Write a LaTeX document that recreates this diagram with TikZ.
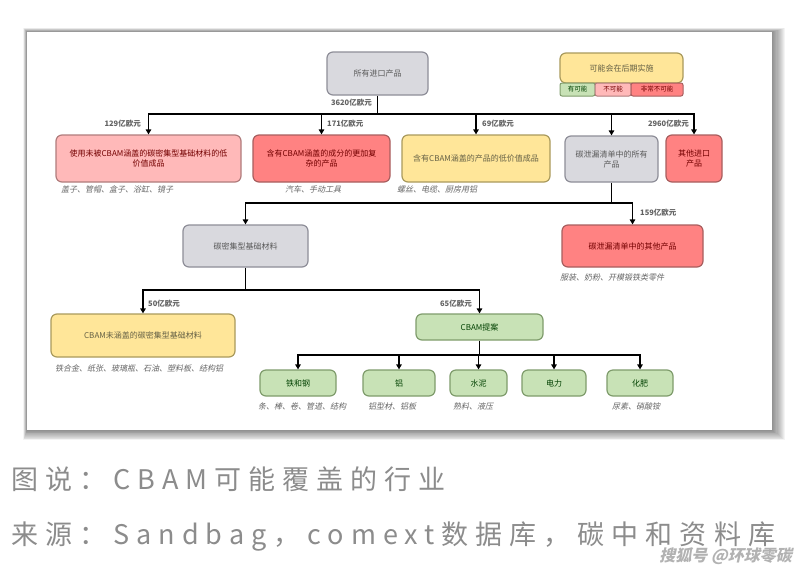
\documentclass[tikz,border=0pt]{standalone}
\usepackage{fontspec}
\setmainfont{Noto Sans CJK SC}
\newfontfamily\cjkit[FakeSlant=0.22]{Noto Sans CJK SC}
\newfontfamily\capfont[LetterSpace=26]{Noto Sans CJK SC}
\usetikzlibrary{arrows.meta}
\definecolor{grayfill}{HTML}{D9D9DE}
\definecolor{graydraw}{HTML}{8E8E98}
\definecolor{pinkfill}{HTML}{FFB9B9}
\definecolor{pinkdraw}{HTML}{B07C7C}
\definecolor{redfill}{HTML}{FF8282}
\definecolor{reddraw}{HTML}{A85E5E}
\definecolor{yelfill}{HTML}{FFE699}
\definecolor{yeldraw}{HTML}{A99A5C}
\definecolor{grnfill}{HTML}{C8E2B6}
\definecolor{grndraw}{HTML}{7F9C6C}
\definecolor{captxt}{HTML}{8C8C8C}
\tikzset{
  box/.style={rounded corners=6pt, line width=1.2pt, align=center, font=\fontsize{8}{10}\selectfont, inner sep=2pt},
  graybox/.style={box, fill=grayfill, draw=graydraw, text=black!65},
  pinkbox/.style={box, fill=pinkfill, draw=pinkdraw, text=red!45!black},
  redbox/.style={box, fill=redfill, draw=reddraw, text=red!45!black},
  yelbox/.style={box, fill=yelfill, draw=yeldraw, text=yellow!30!black},
  grnbox/.style={box, fill=grnfill, draw=grndraw, text=green!25!black},
  legsub/.style={rounded corners=2pt, line width=1pt, font=\fontsize{6.5}{8}\selectfont, inner sep=0pt, minimum height=13pt},
  amount/.style={font=\fontsize{7.5}{9}\selectfont\bfseries, text=black!62, inner sep=1pt},
  examples/.style={font=\cjkit\fontsize{8}{10}\selectfont, text=black!60, inner sep=0pt, anchor=west},
  conn/.style={line width=1.8pt, black},
  arr/.style={conn, -{Triangle[width=5.5pt,length=5pt]}},
  caption/.style={font=\capfont\fontsize{27}{31}\selectfont, text=captxt, anchor=west, inner sep=0pt}
}
\begin{document}
\begin{tikzpicture}[x=1pt,y=-1pt]
\useasboundingbox (0,0) rectangle (800,571);
\fill[white] (0,0) rectangle (800,571);
% slide shadow
\foreach \i in {1,...,12}{
  \fill[black,opacity=0.045] (27-\i*0.3,32-\i*0.35) rectangle (772+\i*1.1,430+\i*0.85);
}
\fill[white] (27,32) rectangle (772,430);

% legend
\node[box, fill=yelfill, draw=yeldraw, text=yellow!30!black, minimum width=123pt, minimum height=30pt] (leg) at (621.5,68) {可能会在后期实施};
\node[legsub, fill=grnfill, draw=grndraw, text=green!25!black, minimum width=35pt] (legA) at (577.5,89.5) {有可能};
\node[legsub, fill=pinkfill, draw=pinkdraw, text=red!45!black, minimum width=36pt] (legB) at (613,89.5) {不可能};
\node[legsub, fill=redfill, draw=reddraw, text=red!45!black, minimum width=52pt] (legC) at (657,89.5) {非常不可能};

% nodes
\node[graybox, minimum width=101pt, minimum height=43pt] (root) at (377.5,73.5) {所有进口产品};

\node[pinkbox, minimum width=185pt, minimum height=47pt] (b1) at (148.5,158.5) {使用未被CBAM涵盖的碳密集型基础材料的低\\价值成品};
\node[redbox, minimum width=137pt, minimum height=47pt] (b2) at (321.5,158.5) {含有CBAM涵盖的成分的更加复\\杂的产品};
\node[yelbox, minimum width=148pt, minimum height=47pt] (b3) at (476,158.5) {含有CBAM涵盖的产品的低价值成品};
\node[graybox, minimum width=93pt, minimum height=46pt] (b4) at (611.5,159) {碳泄漏清单中的所有\\产品};
\node[redbox, minimum width=56pt, minimum height=47pt] (b5) at (694,158.5) {其他进口\\产品};

\node[graybox, minimum width=125pt, minimum height=42pt] (c1) at (245.5,246) {碳密集型基础材料};
\node[redbox, minimum width=141pt, minimum height=42pt] (c2) at (632.5,246) {碳泄漏清单中的其他产品};

\node[yelbox, minimum width=184pt, minimum height=43pt] (d1) at (143,335.5) {CBAM未涵盖的碳密集型基础材料};
\node[grnbox, minimum width=127pt, minimum height=26pt] (d2) at (479.5,327) {CBAM提案};

\node[grnbox, minimum width=76pt, minimum height=26pt] (e1) at (298,383) {铁和钢};
\node[grnbox, minimum width=72pt, minimum height=26pt] (e2) at (399,383) {铝};
\node[grnbox, minimum width=57pt, minimum height=26pt] (e3) at (478.5,383) {水泥};
\node[grnbox, minimum width=64pt, minimum height=26pt] (e4) at (554,383) {电力};
\node[grnbox, minimum width=66pt, minimum height=26pt] (e5) at (640,383) {化肥};

% junctions
\coordinate (j1) at (377.5,114);
\coordinate (j2) at (611.5,203);
\coordinate (j3) at (245.5,290);
\coordinate (j4) at (479.5,355);

% connectors
\draw[conn] (root.south) -- (j1);
\draw[arr] (j1) -| (b1.north);
\draw[arr] (j1) -| (b5.north);
\draw[arr] (b2.north |- j1) -- (b2.north);
\draw[arr] (b3.north |- j1) -- (b3.north);
\draw[arr] (b4.north |- j1) -- (b4.north);

\draw[conn] (b4.south) -- (j2);
\draw[arr] (j2) -| (c1.north);
\draw[arr] (j2) -| (c2.north);

\draw[conn] (c1.south) -- (j3);
\draw[arr] (j3) -| (d1.north);
\draw[arr] (j3) -| (d2.north);

\draw[conn] (d2.south) -- (j4);
\draw[arr] (j4) -| (e1.north);
\draw[arr] (j4) -| (e5.north);
\draw[arr] (e2.north |- j4) -- (e2.north);
\draw[arr] (e3.north |- j4) -- (e3.north);
\draw[arr] (e4.north |- j4) -- (e4.north);

% amounts
\node[amount, anchor=east] (a0) at (373,103) {3620亿欧元};
\node[amount, anchor=east] (a1) at (142,124) {129亿欧元};
\node[amount, anchor=west] (a2) at (326,124) {171亿欧元};
\node[amount, anchor=west] (a3) at (481,124) {69亿欧元};
\node[amount, anchor=east] (a5) at (690,124) {2960亿欧元};
\node[amount, anchor=west] (a6) at (639,213) {159亿欧元};
\node[amount, anchor=west] (a7) at (147,304) {50亿欧元};
\node[amount, anchor=east] (a8) at (473,304) {65亿欧元};

% examples
\node[examples] (x1) at (61,189) {盖子、管帽、盒子、浴缸、镜子};
\node[examples] (x2) at (285,189) {汽车、手动工具};
\node[examples] (x3) at (397,189) {螺丝、电缆、厨房用铝};
\node[examples] (x4) at (560,277) {服装、奶粉、开模锻铁类零件};
\node[examples] (x5) at (55,368) {铁合金、纸张、玻璃瓶、石油、塑料板、结构铝};
\node[examples] (x6) at (258,406) {条、棒、卷、管道、结构};
\node[examples] (x7) at (368,406) {铝型材、铝板};
\node[examples] (x8) at (453,406) {熟料、液压};
\node[examples] (x9) at (612,406) {尿素、硝酸铵};

% captions
\node[caption] (cap1) at (11,479) {图说：CBAM可能覆盖的行业};
\node[caption] (cap2) at (11,537) {来源：Sandbag，comext数据库，碳中和资料库};
\node[font=\cjkit\bfseries\fontsize{16}{18}\selectfont, text=black!30, anchor=east, inner sep=0pt] (wm) at (792,556) {搜狐号 @环球零碳};
\end{tikzpicture}
\end{document}
